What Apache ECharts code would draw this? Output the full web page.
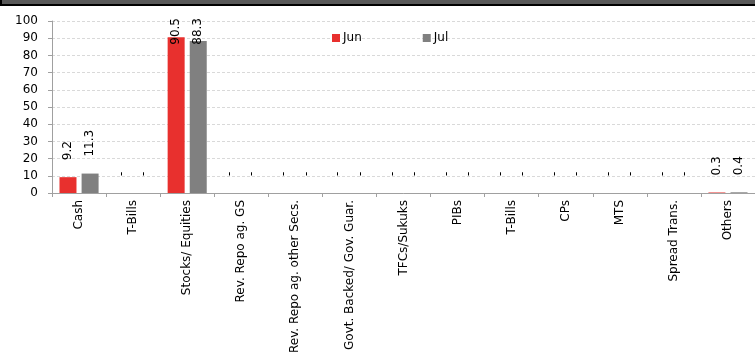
<!DOCTYPE html>
<html>
<head>
<meta charset="utf-8">
<script src="https://cdn.jsdelivr.net/npm/echarts@6/dist/echarts.min.js"></script>
<style>
  html, body { margin: 0; padding: 0; background: #fff; }
  #chart { width: 755px; height: 360px; }
</style>
</head>
<body>
<div id="chart"></div>
<script>
const categories = [
  'Cash', 'T-Bills', 'Stocks/ Equities', 'Rev. Repo ag. GS',
  'Rev. Repo ag. other Secs.', 'Govt. Backed/ Gov. Guar.', 'TFCs/Sukuks',
  'PIBs', 'T-Bills', 'CPs', 'MTS', 'Spread Trans.', 'Others'
];
const junValues = [9.2, 0, 90.5, 0, 0, 0, 0, 0, 0, 0, 0, 0, 0.3];
const julValues = [11.3, 0, 88.3, 0, 0, 0, 0, 0, 0, 0, 0, 0, 0.4];
const seriesNames = ['Jun', 'Jul'];
const yTicks = { min: 0, max: 100, interval: 10 };

const FONT = 'DejaVu Sans';
const LABEL_GAP = 17;
const colors = ['#E8302E', '#808080'];

const valueLabel = {
  show: true,
  position: 'top',
  distance: LABEL_GAP,
  rotate: 90,
  align: 'left',
  verticalAlign: 'middle',
  fontFamily: FONT,
  fontSize: 12,
  color: '#000',
  formatter: p => (p.value === 0 ? '-' : Number(p.value).toFixed(1))
};

function makeSeries(name, values, color) {
  return {
    name: name,
    type: 'bar',
    data: values.slice(),
    barWidth: 17,
    barGap: '30%',
    itemStyle: { color: color },
    label: valueLabel
  };
}

const option = {
  animation: false,
  textStyle: { fontFamily: FONT },
  graphic: [{
    type: 'rect',
    shape: { x: 1, y: -10, width: 760, height: 15 },
    style: { fill: '#595959', stroke: '#000', lineWidth: 2 },
    z: 10
  }],
  legend: {
    data: seriesNames,
    left: 332,
    top: 32,
    padding: 0,
    icon: 'rect',
    itemWidth: 8,
    itemHeight: 8,
    itemGap: 61,
    textStyle: { fontFamily: FONT, fontSize: 12, color: '#000', padding: [0, 0, 0, -2] }
  },
  grid: { left: 52, right: -4, top: 21, bottom: 167, containLabel: false },
  xAxis: {
    type: 'category',
    data: categories,
    axisLine: { lineStyle: { color: '#A0A0A0', width: 1 } },
    axisTick: { show: true, length: 4, alignWithLabel: false, lineStyle: { color: '#A0A0A0' } },
    axisLabel: {
      rotate: 90,
      interval: 0,
      margin: 7,
      fontFamily: FONT,
      fontSize: 12,
      color: '#000'
    }
  },
  yAxis: {
    type: 'value',
    min: yTicks.min,
    max: yTicks.max,
    interval: yTicks.interval,
    axisLine: { show: true, lineStyle: { color: '#A0A0A0', width: 1 } },
    axisTick: { show: true, length: 4, lineStyle: { color: '#A0A0A0' } },
    axisLabel: { margin: 14, fontFamily: FONT, fontSize: 12, color: '#000' },
    splitLine: { show: true, lineStyle: { color: '#D9D9D9', type: [3, 2] } }
  },
  series: [
    makeSeries(seriesNames[0], junValues, colors[0]),
    makeSeries(seriesNames[1], julValues, colors[1])
  ]
};

const chart = echarts.init(document.getElementById('chart'), null, { renderer: 'canvas' });
chart.setOption(option);

// Labels that would run past the top of the plot are tucked under its upper edge.
const ctx = document.createElement('canvas').getContext('2d');
ctx.font = '12px "' + FONT + '"';
const topY = chart.convertToPixel({ yAxisIndex: 0 }, yTicks.max);
function fitLabels(values) {
  return values.map(v => {
    const text = v === 0 ? '-' : v.toFixed(1);
    const len = ctx.measureText(text).width;
    const barTop = chart.convertToPixel({ yAxisIndex: 0 }, v);
    if (barTop - LABEL_GAP - len < topY - 3) {
      return {
        value: v,
        label: { position: ['50%', topY - 3 - barTop], align: 'right' }
      };
    }
    return v;
  });
}
chart.setOption({
  series: [
    { data: fitLabels(junValues) },
    { data: fitLabels(julValues) }
  ]
});
</script>
</body>
</html>
